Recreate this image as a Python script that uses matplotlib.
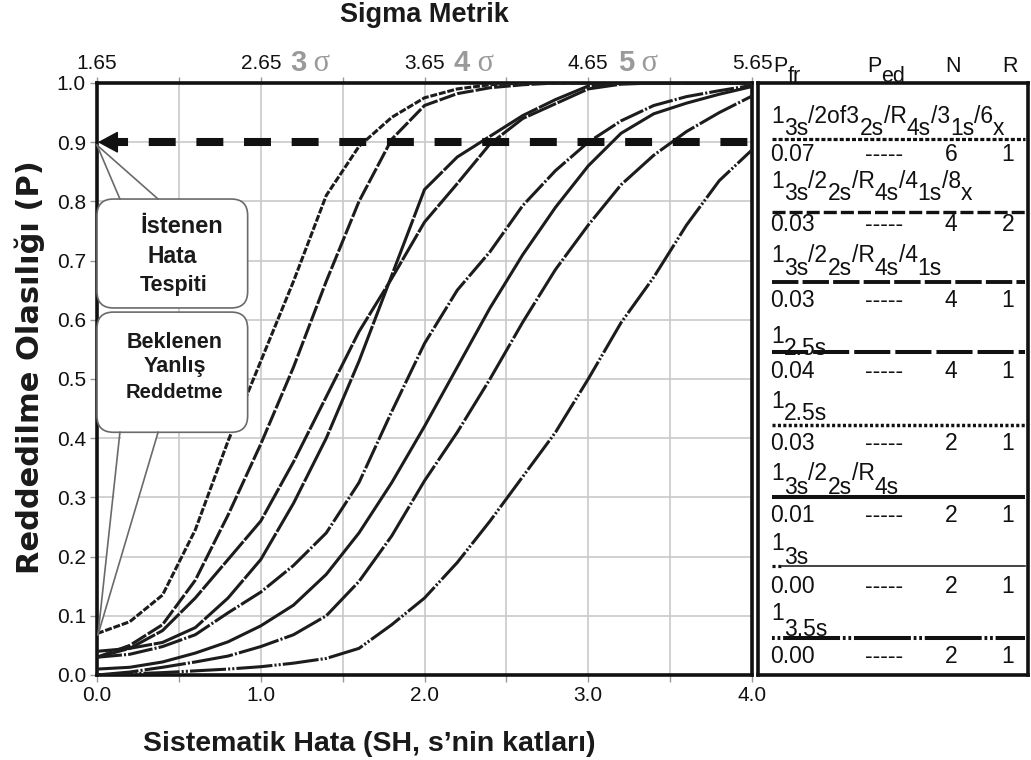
import numpy as np
import matplotlib
matplotlib.use("Agg")
import matplotlib.pyplot as plt
from matplotlib.patches import FancyBboxPatch, Polygon
import matplotlib.ticker as mticker

plt.rcParams['font.family'] = ['Liberation Sans', 'DejaVu Sans']
plt.rcParams['lines.scale_dashes'] = False

# ---------------- data ----------------
se = [0.0, 0.2, 0.4, 0.6, 0.8, 1.0, 1.2, 1.4, 1.6, 1.8, 2.0,
      2.2, 2.4, 2.6, 2.8, 3.0, 3.2, 3.4, 3.6, 3.8, 4.0]

p_13s_2of32s_R4s_31s_6x = [0.07, 0.09, 0.135, 0.245, 0.395, 0.53, 0.665, 0.81, 0.893, 0.942, 0.975,
                           0.99, 0.997, 1.0, 1.0, 1.0, 1.0, 1.0, 1.0, 1.0, 1.0]
p_13s_22s_R4s_41s_8x = [0.03, 0.05, 0.085, 0.16, 0.27, 0.39, 0.52, 0.665, 0.80, 0.905, 0.962,
                        0.982, 0.992, 0.997, 1.0, 1.0, 1.0, 1.0, 1.0, 1.0, 1.0]
p_13s_22s_R4s_41s = [0.03, 0.045, 0.075, 0.13, 0.195, 0.26, 0.36, 0.47, 0.58, 0.67, 0.765,
                     0.83, 0.897, 0.94, 0.965, 0.99, 0.998, 1.0, 1.0, 1.0, 1.0]
p_125s_n4 = [0.04, 0.045, 0.055, 0.08, 0.13, 0.195, 0.29, 0.40, 0.53, 0.675, 0.82,
             0.875, 0.91, 0.945, 0.972, 0.995, 1.0, 1.0, 1.0, 1.0, 1.0]
p_125s_n2 = [0.03, 0.035, 0.048, 0.068, 0.105, 0.14, 0.185, 0.24, 0.325, 0.445, 0.56,
             0.65, 0.715, 0.793, 0.852, 0.9, 0.936, 0.962, 0.977, 0.987, 0.996]
p_13s_22s_R4s = [0.01, 0.013, 0.022, 0.037, 0.056, 0.083, 0.118, 0.17, 0.24, 0.325, 0.42,
                 0.52, 0.62, 0.71, 0.79, 0.86, 0.915, 0.948, 0.966, 0.981, 0.994]
p_13s = [0.0, 0.005, 0.013, 0.022, 0.032, 0.048, 0.068, 0.10, 0.158, 0.235, 0.328,
         0.41, 0.5, 0.596, 0.685, 0.76, 0.828, 0.878, 0.918, 0.95, 0.978]
p_135s = [0.0, 0.002, 0.004, 0.007, 0.01, 0.014, 0.02, 0.028, 0.045, 0.085, 0.13,
          0.19, 0.26, 0.335, 0.41, 0.5, 0.595, 0.672, 0.76, 0.835, 0.887]

# legend table
rule_names = [
    [("1", "u"), ("3s", "d"), ("/2of3", "u"), ("2s", "d"), ("/R", "u"), ("4s", "d"),
     ("/3", "u"), ("1s", "d"), ("/6", "u"), ("x", "d")],
    [("1", "u"), ("3s", "d"), ("/2", "u"), ("2s", "d"), ("/R", "u"), ("4s", "d"),
     ("/4", "u"), ("1s", "d"), ("/8", "u"), ("x", "d")],
    [("1", "u"), ("3s", "d"), ("/2", "u"), ("2s", "d"), ("/R", "u"), ("4s", "d"),
     ("/4", "u"), ("1s", "d")],
    [("1", "u"), ("2.5s", "d")],
    [("1", "u"), ("2.5s", "d")],
    [("1", "u"), ("3s", "d"), ("/2", "u"), ("2s", "d"), ("/R", "u"), ("4s", "d")],
    [("1", "u"), ("3s", "d")],
    [("1", "u"), ("3.5s", "d")],
]
p_fr = [0.07, 0.03, 0.03, 0.04, 0.03, 0.01, 0.00, 0.00]
p_ed = ["-----"] * 8
n_ctrl = [6, 4, 4, 4, 2, 2, 2, 2]
n_runs = [1, 2, 1, 1, 1, 1, 1, 1]

sigma_offset = 1.65
sigma_ticks = [1.65, 2.65, 3.65, 4.65, 5.65]
sigma_marks = ["3", "4", "5"]
target_p = 0.9

curves = [p_13s_2of32s_R4s_31s_6x, p_13s_22s_R4s_41s_8x, p_13s_22s_R4s_41s,
          p_125s_n4, p_125s_n2, p_13s_22s_R4s, p_13s, p_135s]

# ---------------- styles ----------------
INK = '#1c1c1c'
GRID = '#c9c9c9'
curve_styles = [(0, (5, 1.3)), (0, (12, 1.5)), (0, (22, 1.2)), (0, (40, 1.2)),
                (0, (18, 1.5, 1.5, 1.5)), '-', (0, (30, 1.5, 1.5, 1.5)),
                (0, (26, 1.5, 1.5, 1.5, 1.5, 1.5))]

W, H = 1031, 760
fig = plt.figure(figsize=(W / 100, H / 100), dpi=100)
ax = fig.add_axes([97 / W, (H - 675) / H, 655 / W, 592 / H])
ax.set_xlim(0, 4)
ax.set_ylim(0, 1)

ax.set_xticks([0, 1, 2, 3, 4])
ax.set_xticks(np.arange(0, 4.01, 0.5), minor=True)
ax.set_yticks(np.arange(0, 1.001, 0.1))
ax.xaxis.set_major_formatter(mticker.FormatStrFormatter('%.1f'))
ax.yaxis.set_major_formatter(mticker.FormatStrFormatter('%.1f'))
ax.grid(which='both', color=GRID, lw=1.2)
ax.set_axisbelow(True)
ax.tick_params(axis='both', which='both', labelsize=15, colors='#999999',
               labelcolor='#111111', length=5, width=1, pad=3)
for sp in ax.spines.values():
    sp.set_linewidth(2.6)
    sp.set_color('#111111')

for p, st in zip(curves, curve_styles):
    ax.plot(se, p, color=INK, lw=2.2, ls=st, zorder=3,
            dash_capstyle='butt', solid_capstyle='butt')

# required error detection level with arrow
ax.plot([0.11, 4.0], [target_p, target_p], color='#111111', lw=5.8,
        ls=(10, (19.4, 14.9)), dash_capstyle='butt', zorder=4)
ax.annotate('', xy=(0.005, target_p), xytext=(0.12, target_p),
            arrowprops=dict(arrowstyle='-|>,head_length=1.3,head_width=0.7',
                            color='#111111', lw=1, shrinkA=0, shrinkB=0), zorder=4)

# callout boxes
aspect = (1 / 592) / (4 / 655)
BOX_EC = '#6a6a6a'


def callout(x0, y0, w, h, base, tip, base_y):
    box = FancyBboxPatch((x0, y0), w, h,
                         boxstyle='round,pad=0,rounding_size=0.1',
                         mutation_aspect=aspect, fc='white', ec=BOX_EC,
                         lw=1.2, zorder=5, clip_on=False)
    ax.add_patch(box)
    inward = -0.006 if base_y > y0 + h / 2 else 0.006
    cover = Polygon([(base[0] + 0.01, base_y - inward), tip, (base[1] - 0.01, base_y - inward)],
                    closed=True, fc='white', ec='none', zorder=6, clip_on=False)
    ax.add_patch(cover)
    for bx in base:
        ax.plot([bx, tip[0]], [base_y, tip[1]], color=BOX_EC, lw=1.2, zorder=7,
                clip_on=False)


callout(0.0, 0.62, 0.92, 0.184, (0.14, 0.373), (0.0, 0.895), 0.804)
callout(0.0, 0.41, 0.92, 0.203, (0.14, 0.373), (0.006, 0.068), 0.41)

box_texts = [("İstenen", 0.52, 0.747, 17), ("Hata", 0.46, 0.696, 16.5),
             ("Tespiti", 0.466, 0.649, 15.5), ("Beklenen", 0.472, 0.552, 15.5),
             ("Yanlış", 0.476, 0.511, 15.5), ("Reddetme", 0.472, 0.468, 14.5)]
for s, x, y, fs in box_texts:
    ax.text(x, y, s, ha='center', va='baseline', fontsize=fs, fontweight='bold',
            color='#1a1a1a', zorder=8)

# axis labels and title
ax.set_xlabel('Sistematik Hata (SH, s’nin katları)', fontsize=20.5, fontweight='bold',
              color='#1a1a1a')
ax.xaxis.set_label_coords((369 - 97) / 655, -0.094)
ax.set_ylabel('Reddedilme Olasılığı (P)', fontsize=22, fontweight='bold', color='#1a1a1a',
              family=['DejaVu Sans'])
ax.yaxis.set_label_coords(-0.08, 0.52)
fig.text(424 / W, 1 - 15 / H, 'Sigma Metrik', ha='center', va='center', fontsize=19.5,
         fontweight='bold', color='#1a1a1a')

# top sigma axis
sec = ax.secondary_xaxis('top', functions=(lambda v: v + sigma_offset,
                                           lambda s: s - sigma_offset))
sec.set_xticks(sigma_ticks)
sec.set_xticks([t + 0.5 for t in sigma_ticks[:-1]], minor=True)
sec.xaxis.set_major_formatter(mticker.FormatStrFormatter('%.2f'))
sec.tick_params(axis='x', which='both', labelsize=15, colors='#999999',
                labelcolor='#111111', length=4, width=1, pad=3)
sec.spines['top'].set_visible(False)


def chain(axes, x, y0, parts, ycoord, xcoord='data', **kw):
    first = True
    prev = None
    for s, y, fkw in parts:
        style = dict(kw)
        style.update(fkw)
        if first:
            prev = axes.annotate(s, xy=(x, y), xycoords=(xcoord, ycoord), ha='left',
                                 va='baseline', annotation_clip=False, **style)
            first = False
        else:
            prev = axes.annotate(s, xy=(1, y), xycoords=(prev, ycoord), ha='left',
                                 va='baseline', annotation_clip=False, **style)
    return prev


sig_y = (675 - 71) / 592
for k, mark in enumerate(sigma_marks):
    chain(ax, 1.18 + k, sig_y,
          [(mark, sig_y, dict(fontweight='bold', fontsize=21)),
           (" σ", sig_y, dict(fontweight='normal', fontsize=22, family='Liberation Serif'))],
          'axes fraction', color='#9a9a9a')

# ---------------- legend table ----------------
ax2 = fig.add_axes([758 / W, (H - 675) / H, 270 / W, 592 / H])
ax2.set_xlim(0, 1)
ax2.set_ylim(675, 83)
ax2.set_xticks([])
ax2.set_yticks([])
for sp in ax2.spines.values():
    sp.set_linewidth(2.6)
    sp.set_color('#111111')

TFS = 15.5
# header
chain(ax2, 0.058, 72, [("P", 72, {}), ("fr", 82, {})], 'data', fontsize=TFS, color='#111111')
chain(ax2, 0.404, 72, [("P", 72, {}), ("ed", 82, {})], 'data', fontsize=TFS, color='#111111')
ax2.text(0.724, 72, "N", ha='center', va='baseline', fontsize=TFS, color='#111111',
         clip_on=False)
ax2.text(0.933, 72, "R", ha='center', va='baseline', fontsize=TFS, color='#111111',
         clip_on=False)

up_base = [123, 188, 262, 343, 408, 480, 550, 620]
dn_base = [135, 200, 275, 355, 420, 494, 564, 636]
line_y = [139, 212, 282, 352, 425, 497, 566, 638]
val_base = [161, 231, 307, 378, 450, 522, 593, 663]

legend_styles = [
    dict(lw=2.3, ls=(0, (2.9, 1.5))),
    dict(lw=2.4, ls=(0, (9.4, 2.9))),
    dict(lw=2.8, ls=(0, (19, 3))),
    dict(lw=2.9, ls=(0, (26, 3.6))),
    dict(lw=2.5, ls=(0, (2.2, 1.7))),
    dict(lw=2.9, ls='-'),
    dict(lw=1.1, ls='-'),
    dict(lw=2.9, ls=(0, (2, 2, 2, 2, 41, 2))),
]

for i in range(8):
    parts = [(s, up_base[i] if pos == 'u' else dn_base[i], {}) for s, pos in rule_names[i]]
    chain(ax2, 0.05, up_base[i], parts, 'data', fontsize=16.5, color='#111111')
    if i == 6:
        ax2.plot([0.052, 0.085], [line_y[i]] * 2, color='#111111', lw=2.3,
                 ls=(0, (2.2, 2.0)), dash_capstyle='butt')
        ax2.plot([0.09, 0.99], [line_y[i]] * 2, color='#111111', **legend_styles[i])
    else:
        ax2.plot([0.052, 0.99], [line_y[i]] * 2, color='#111111',
                 dash_capstyle='butt', solid_capstyle='butt', **legend_styles[i])
    ax2.text(0.045, val_base[i], f"{p_fr[i]:.2f}", ha='left', va='baseline', fontsize=16.5,
             color='#111111')
    ax2.text(0.467, val_base[i], p_ed[i], ha='center', va='baseline', fontsize=16.5,
             color='#111111')
    ax2.text(0.714, val_base[i], str(n_ctrl[i]), ha='center', va='baseline', fontsize=16.5,
             color='#111111')
    ax2.text(0.926, val_base[i], str(n_runs[i]), ha='center', va='baseline', fontsize=16.5,
             color='#111111')

fig.savefig('out.png', dpi=100)
